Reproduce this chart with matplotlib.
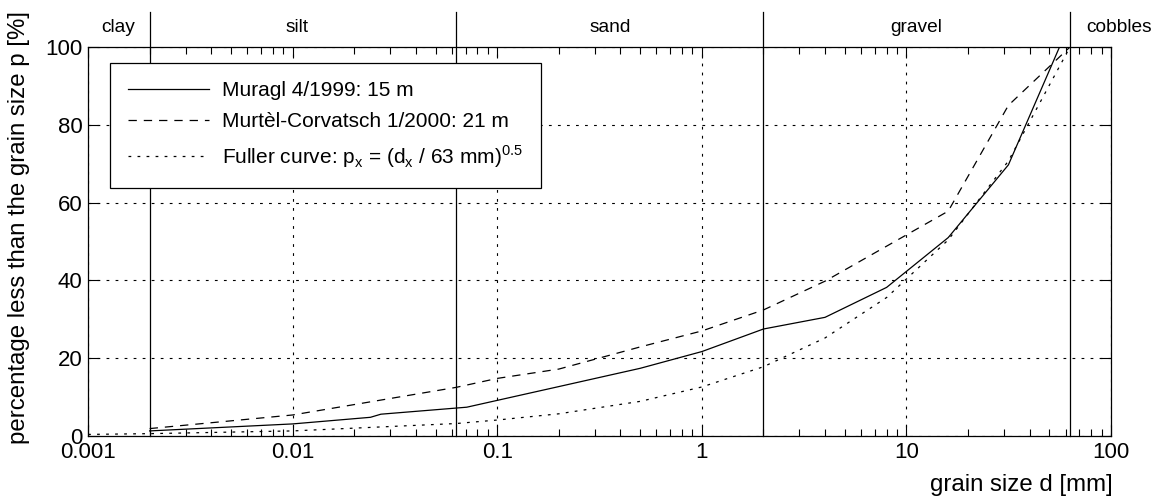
import matplotlib.pyplot as plt
import matplotlib.ticker as mticker
import matplotlib.transforms as mtrans

plt.rcParams['font.family'] = ['Liberation Sans', 'DejaVu Sans']
plt.rcParams['mathtext.fontset'] = 'custom'
plt.rcParams['mathtext.rm'] = 'Liberation Sans'
plt.rcParams['lines.scale_dashes'] = False

# grain size distribution data
muragl_d = [0.002, 0.01, 0.024, 0.027, 0.071, 0.2, 0.5, 1, 2, 4, 8, 16, 31.5, 56]
muragl_p = [1.3, 3.1, 4.8, 5.6, 7.4, 12.7, 17.4, 21.7, 27.5, 30.5, 38.2, 51.0, 69.7, 100]

murtel_d = [0.002, 0.01, 0.063, 0.1, 0.2, 0.5, 1, 2, 4, 16, 31.5, 63]
murtel_p = [1.9, 5.4, 12.5, 14.8, 17.2, 22.9, 27.0, 32.4, 39.8, 57.8, 85.0, 100]

fuller_d = [0.001, 0.002, 0.01, 0.063, 0.1, 0.2, 0.5, 1, 2, 4, 8, 16, 31.5, 63]
fuller_p = [0.4, 0.6, 1.3, 3.2, 4.1, 5.7, 8.9, 12.6, 17.8, 25.2, 35.6, 50.4, 70.7, 100]

# soil classes
class_bounds = [0.002, 0.063, 2, 63]
class_names = ['clay', 'silt', 'sand', 'gravel', 'cobbles']
class_label_x = [0.0014, 0.0105, 0.355, 11.2, 110]

fig = plt.figure(figsize=(11.6, 4.99), dpi=100)
ax = fig.add_axes([0.0759, 0.1263, 0.8819, 0.7795])

ax.plot(muragl_d, muragl_p, '-', color='black', lw=0.9, label='Muragl 4/1999: 15 m')
ax.plot(murtel_d, murtel_p, color='black', lw=0.9, dashes=(6, 5),
        label='Murtèl-Corvatsch 1/2000: 21 m')
ax.plot(fuller_d, fuller_p, color='black', lw=0.9, dashes=(2, 4.5),
        label=r'Fuller curve: p$_\mathregular{x}$ = (d$_\mathregular{x}$ / 63 mm)$^\mathregular{0.5}$')

ax.set_xscale('log')
ax.set_xlim(0.001, 100)
ax.set_ylim(0, 100)
ax.set_xticks([0.001, 0.01, 0.1, 1, 10, 100])
ax.xaxis.set_major_formatter(mticker.FuncFormatter(lambda v, p: '%g' % v))
ax.xaxis.set_minor_locator(mticker.LogLocator(base=10, subs=range(2, 10)))
ax.xaxis.set_minor_formatter(mticker.NullFormatter())
ax.set_yticks([0, 20, 40, 60, 80, 100])

ax.tick_params(which='both', direction='in', top=True, right=True, labelsize=16, width=0.8)
ax.tick_params(which='major', length=8, pad=4)
ax.tick_params(which='minor', length=5)
ax.grid(True, which='major', color='black', lw=0.8, dashes=(2, 4.5))
for s in ax.spines.values():
    s.set_linewidth(0.9)

# class boundaries extending above the axes
trans = mtrans.blended_transform_factory(ax.transData, ax.transAxes)
for b in class_bounds:
    ax.plot([b, b], [0, 1.09], color='black', lw=0.9, transform=trans, clip_on=False)
for x, name in zip(class_label_x, class_names):
    ax.text(x, 1.051, name, transform=trans, ha='center', va='center', fontsize=13.8)

ax.set_ylabel('percentage less than the grain size p [%]', fontsize=17.3)
ax.yaxis.set_label_coords(-0.057, 0.536)
ax.set_xlabel('grain size d [mm]', fontsize=17.3, ha='right')
ax.xaxis.set_label_coords(1.002, -0.097)

leg = ax.legend(loc='upper left', bbox_to_anchor=(0.0215, 0.959), fontsize=15,
                handlelength=3.9, handletextpad=0.6, borderpad=0.87, labelspacing=0.58,
                fancybox=False, framealpha=1, edgecolor='black', borderaxespad=0)
leg.get_frame().set_linewidth(0.9)

fig.savefig('out.png', dpi=100)
